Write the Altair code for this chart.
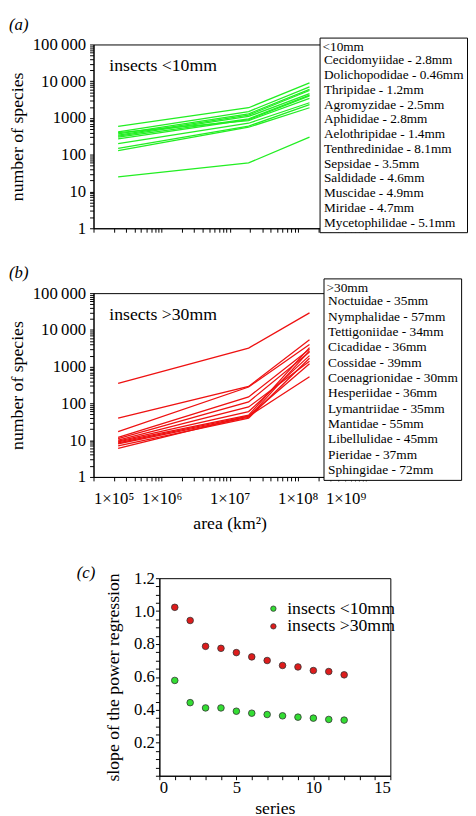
import altair as alt
import pandas as pd

FONT = "Liberation Serif"

# ---------------- data ----------------
areas = [2.3e5, 1.9e7, 1.49e8]

small_families = [
    "Cecidomyiidae - 2.8mm", "Dolichopodidae - 0.46mm", "Thripidae - 1.2mm",
    "Agromyzidae - 2.5mm", "Aphididae - 2.8mm", "Aelothripidae - 1.4mm",
    "Tenthredinidae - 8.1mm", "Sepsidae - 3.5mm", "Saldidade - 4.6mm",
    "Muscidae - 4.9mm", "Miridae - 4.7mm", "Mycetophilidae - 5.1mm",
]
small_start = [590, 420, 370, 340, 320, 300, 270, 400, 200, 150, 130, 25]
small_mid = [1900, 1500, 1300, 1200, 1100, 950, 900, 850, 720, 600, 560, 60]
small_end = [9000, 7000, 6000, 5600, 4600, 4200, 4000, 3400, 2600, 2300, 1900, 300]

large_families = [
    "Noctuidae - 35mm", "Nymphalidae - 57mm", "Tettigoniidae - 34mm",
    "Cicadidae - 36mm", "Cossidae - 39mm", "Coenagrionidae - 30mm",
    "Hesperiidae - 36mm", "Lymantriidae - 35mm", "Mantidae - 55mm",
    "Libellulidae - 45mm", "Pieridae - 37mm", "Sphingidae - 72mm",
]
large_start = [350, 40, 17, 12, 11, 10, 9.5, 9, 8.5, 8, 7, 6]
large_mid = [3200, 290, 280, 150, 110, 80, 60, 48, 45, 42, 40, 45]
large_end = [29000, 5400, 4000, 3000, 2500, 1400, 2000, 3300, 1200, 2700, 1700, 530]

series_idx = [1, 2, 3, 4, 5, 6, 7, 8, 9, 10, 11, 12]
slope_small = [0.579, 0.444, 0.412, 0.412, 0.392, 0.380, 0.372, 0.364, 0.356, 0.350, 0.342, 0.338]
slope_large = [1.023, 0.943, 0.786, 0.774, 0.748, 0.722, 0.700, 0.670, 0.661, 0.639, 0.633, 0.613]

GREEN_LINE = "#22ee22"
RED_LINE = "#ee1111"
GREEN_PT = "#33dd33"
RED_PT = "#dd1c1c"


def long_df(families, s, m, e):
    rows = []
    for f, a, b, c in zip(families, s, m, e):
        for x, y in zip(areas, [a, b, c]):
            rows.append({"family": f, "area": x, "species": y})
    return pd.DataFrame(rows)


y_vals = [k * 10 ** p for p in range(0, 5) for k in range(1, 10)] + [100000]
x_vals = [k * 10 ** p for p in range(5, 9) for k in range(1, 10)] + [10 ** 9]

y_label_expr = ("datum.value == 100000 ? '100\u2009000' : datum.value == 10000 ? '10\u2009000' : "
                "datum.value == 1000 ? '1000' : datum.value == 100 ? '100' : "
                "datum.value == 10 ? '10' : datum.value == 1 ? '1' : ''")
x_label_expr = ("datum.value == 100000 ? '1\u00d710\u2075' : datum.value == 1000000 ? '1\u00d710\u2076' : "
                "datum.value == 10000000 ? '1\u00d710\u2077' : datum.value == 100000000 ? '1\u00d710\u2078' : "
                "datum.value == 1000000000 ? '1\u00d710\u2079' : ''")

AX = dict(grid=False, tickSize=4, labelFont=FONT, labelFontSize=17, titleFont=FONT,
          titleFontSize=18, titleFontWeight="normal", labelOverlap=False,
          domainColor="black", tickColor="black", labelColor="black", titleColor="black")


def text_layer(txt, x, y, size=18, style="normal", opacity=1):
    return alt.Chart(pd.DataFrame({"t": [txt]})).mark_text(
        align="left", baseline="middle", font=FONT, fontSize=size, fontStyle=style,
        color="black", opacity=opacity
    ).encode(x=alt.value(x), y=alt.value(y), text="t:N")


def line_panel(df, families, color, legend_title, inner_text, letter, show_x,
               lx, ly, lfs, lpad, lrow):
    x_axis = alt.Axis(values=x_vals, labelExpr=x_label_expr, labels=show_x,
                      title="area (km\u00b2)" if show_x else None,
                      labelPadding=10, titlePadding=8, **AX)
    y_axis = alt.Axis(values=y_vals, labelExpr=y_label_expr, title="number of species",
                      labelPadding=4, titlePadding=6, **AX)
    lines = alt.Chart(df).mark_line(strokeWidth=1.3).encode(
        x=alt.X("area:Q", scale=alt.Scale(type="log", domain=[1e5, 1e9], nice=False), axis=x_axis),
        y=alt.Y("species:Q", scale=alt.Scale(type="log", domain=[1, 100000], nice=False), axis=y_axis),
        color=alt.Color(
            "family:N",
            scale=alt.Scale(domain=families, range=[color] * len(families)),
            legend=alt.Legend(
                title=legend_title, orient="none", legendX=lx, legendY=ly,
                symbolType="circle", symbolSize=0.01, symbolStrokeWidth=0.01,
                symbolOpacity=0, labelOffset={"expr": "-12"},
                labelFont=FONT, labelFontSize=lfs, titleFont=FONT, titleFontSize=lfs,
                titleFontWeight="normal", labelColor="black", titleColor="black",
                strokeColor="black", fillColor="white", padding=lpad,
                rowPadding=lrow, titlePadding=0, labelLimit=300,
            ),
        ),
    )
    return alt.layer(
        lines,
        text_layer(inner_text, 16, 22),
        text_layer(letter, -86, -20, size=17, style="italic"),
    ).properties(width=277, height=187)


panel_a = line_panel(long_df(small_families, small_start, small_mid, small_end), small_families,
                     GREEN_LINE, "<10mm", "insects <10mm", "(a)", False, 230, -7, 13.5, 3, 0)
panel_b = line_panel(long_df(large_families, large_start, large_mid, large_end), large_families,
                     RED_LINE, ">30mm", "insects >30mm", "(b)", True, 234, -15, 13.6, 3, 0.6)

slope_df = pd.DataFrame({
    "series": series_idx + series_idx,
    "slope": slope_small + slope_large,
    "group": ["insects <10mm"] * 12 + ["insects >30mm"] * 12,
})

pts = alt.Chart(slope_df).mark_circle(size=45, opacity=1, stroke="#333333", strokeWidth=0.8).encode(
    x=alt.X("series:Q", scale=alt.Scale(domain=[0, 15], nice=False),
            axis=alt.Axis(values=list(range(0, 16)),
                          labelExpr="datum.value % 5 == 0 ? datum.value : ''",
                          title="series", labelPadding=0, titlePadding=4, **AX)),
    y=alt.Y("slope:Q", scale=alt.Scale(domain=[0, 1.2], nice=False),
            axis=alt.Axis(values=[round(i * 0.05, 2) for i in range(0, 25)],
                          labelExpr="(datum.value > 0.01 && abs(datum.value*5 - round(datum.value*5)) < 0.001) ? format(datum.value, '.1f') : ''",
                          title="slope of the power regression", labelPadding=1,
                          titlePadding=11, **AX)),
    color=alt.Color("group:N",
                    scale=alt.Scale(domain=["insects <10mm", "insects >30mm"], range=[GREEN_PT, RED_PT]),
                    legend=alt.Legend(title=None, orient="none", legendX=107, legendY=22,
                                      symbolType="circle", symbolSize=30,
                                      symbolStrokeColor="#333333", symbolStrokeWidth=0.8,
                                      labelFont=FONT, labelFontSize=18, labelColor="black",
                                      labelOffset=5, rowPadding=0, padding=0)),
)

panel_c = pts.properties(width=235, height=201)

# narrow blank cell left of panel (c); it carries the "(c)" label
spacer_base = alt.Chart(pd.DataFrame({"v": [0]})).mark_point(opacity=0).encode(
    x=alt.X("v:Q", axis=None), y=alt.Y("v:Q", axis=None)
)
spacer = alt.layer(
    spacer_base,
    text_layer("(c)", -17, -5, size=17, style="italic"),
    text_layer(".", -17, -10, size=18, opacity=0),
).properties(width=11, height=1, view=alt.ViewBackground(stroke=None))

row_c = alt.hconcat(spacer, panel_c, spacing=0).resolve_scale(color="independent")

chart = alt.vconcat(panel_a, panel_b, row_c, spacing=27).resolve_scale(
    color="independent"
).properties(padding=0).configure_view(stroke="black", strokeWidth=1)

chart.save("out.html", embed_options={"renderer": "svg", "actions": False})
